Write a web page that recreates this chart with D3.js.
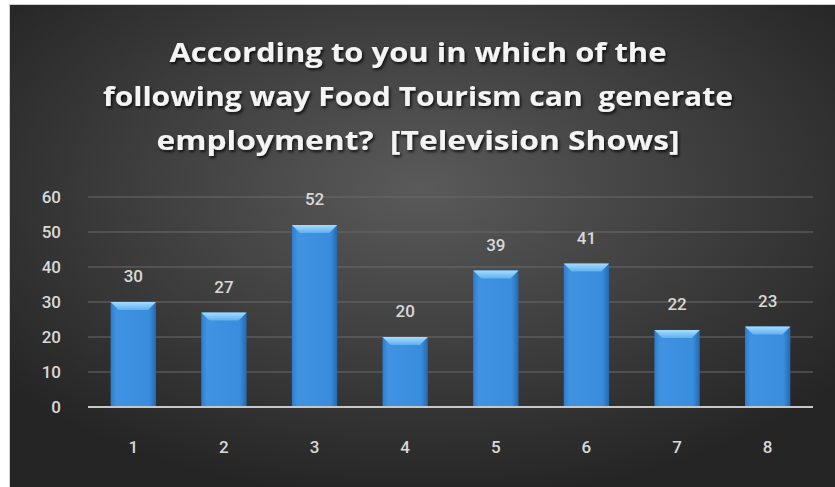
<!DOCTYPE html>
<html>
<head>
<meta charset="utf-8">
<script src="https://cdn.jsdelivr.net/npm/d3@7"></script>
<style>
  html, body { margin: 0; padding: 0; background: #fff; }
  svg { display: block; }
</style>
</head>
<body>
<div id="chart"></div>
<script>
const categories = ["1", "2", "3", "4", "5", "6", "7", "8"];
const values = [30, 27, 52, 20, 39, 41, 22, 23];
const yTicks = [0, 10, 20, 30, 40, 50, 60];
const titleLines = [
  "According to you in which of the",
  "following way Food Tourism can  generate",
  "employment?  [Television Shows]"
];
// measured widths of the title lines in the reference
const titleWidths = [497, 630, 523];

const W = 835, H = 487;
const margin = { top: 197, right: 22, bottom: 80, left: 88 };
const font = "'Roboto', 'Liberation Sans', sans-serif";

const svg = d3.select("#chart").append("svg")
  .attr("width", W).attr("height", H);

const defs = svg.append("defs");

// background radial gradient
const bg = defs.append("radialGradient").attr("id", "bg")
  .attr("cx", "50%").attr("cy", "38%").attr("r", "65%");
bg.append("stop").attr("offset", "0%").attr("stop-color", "#5a5a5a");
bg.append("stop").attr("offset", "100%").attr("stop-color", "#252525");

// bar gradient
const bar = defs.append("linearGradient").attr("id", "bar")
  .attr("x1", "0%").attr("x2", "100%");
bar.append("stop").attr("offset", "0%").attr("stop-color", "#2f7cc9");
bar.append("stop").attr("offset", "12%").attr("stop-color", "#3f93e2");
bar.append("stop").attr("offset", "85%").attr("stop-color", "#3a8ddc");
bar.append("stop").attr("offset", "100%").attr("stop-color", "#2569ae");

const bevel = defs.append("linearGradient").attr("id", "bevel")
  .attr("x1", "0%").attr("x2", "0%").attr("y1", "0%").attr("y2", "100%");
bevel.append("stop").attr("offset", "0%").attr("stop-color", "#a6dcff");
bevel.append("stop").attr("offset", "100%").attr("stop-color", "#5fb0f0");

const shadow = defs.append("filter").attr("id", "shadow")
  .attr("x", "-10%").attr("y", "-20%").attr("width", "120%").attr("height", "150%");
shadow.append("feDropShadow").attr("dx", 1.5).attr("dy", 2).attr("stdDeviation", 1.5)
  .attr("flood-color", "#000").attr("flood-opacity", 0.8);

svg.append("rect").attr("x", 9).attr("y", 4).attr("width", W - 9).attr("height", H - 4)
  .attr("fill", "#cfcfcf");
svg.append("rect").attr("x", 10).attr("y", 5).attr("width", W - 10).attr("height", H - 5)
  .attr("fill", "url(#bg)");

// title
svg.append("g").selectAll("text")
  .data(titleLines)
  .join("text")
  .attr("x", 418)
  .attr("y", (d, i) => 62 + i * 44)
  .attr("text-anchor", "middle")
  .attr("textLength", (d, i) => titleWidths[i])
  .attr("lengthAdjust", "spacingAndGlyphs")
  .attr("fill", "#f4f4f4")
  .attr("filter", "url(#shadow)")
  .style("white-space", "pre")
  .style("font-family", "'Open Sans', 'Roboto', sans-serif")
  .style("font-weight", "bold")
  .style("font-size", "27px")
  .text(d => d);

const x = d3.scaleBand()
  .domain(categories)
  .range([margin.left, W - margin.right])
  .paddingInner(0.5)
  .paddingOuter(0.25);

const y = d3.scaleLinear()
  .domain([0, 60])
  .range([H - margin.bottom, margin.top]);

// gridlines
svg.append("g").selectAll("line")
  .data(yTicks.filter(d => d > 0))
  .join("line")
  .attr("x1", margin.left).attr("x2", W - margin.right)
  .attr("y1", d => y(d)).attr("y2", d => y(d))
  .attr("stroke", "#6a6a6a").attr("stroke-width", 1);

// y axis labels
const yAxis = svg.append("g")
  .attr("transform", `translate(${margin.left - 27},0)`)
  .call(d3.axisLeft(y).tickValues(yTicks).tickSize(0).tickPadding(0));
yAxis.select(".domain").remove();
yAxis.selectAll("text")
  .attr("fill", "#d9d9d9")
  .style("font-family", font)
  .style("font-weight", 500)
  .style("font-size", "17px");

// bars
const bars = svg.append("g").selectAll("g")
  .data(values)
  .join("g")
  .attr("transform", (d, i) => `translate(${x(categories[i])},0)`);

bars.append("rect")
  .attr("x", 0)
  .attr("y", d => y(d))
  .attr("width", x.bandwidth())
  .attr("height", d => y(0) - y(d))
  .attr("fill", "url(#bar)");

bars.append("path")
  .attr("d", d => {
    const t = y(d), w = x.bandwidth();
    return `M0,${t} L${w},${t} L${w - 8},${t + 8} L8,${t + 8} Z`;
  })
  .attr("fill", "url(#bevel)");

bars.append("text")
  .attr("x", x.bandwidth() / 2)
  .attr("y", d => y(d) - 20)
  .attr("text-anchor", "middle")
  .attr("fill", "#d9d9d9")
  .style("font-family", font)
  .style("font-weight", 500)
  .style("font-size", "17px")
  .text(d => d);

// baseline
svg.append("line")
  .attr("x1", margin.left).attr("x2", W - margin.right)
  .attr("y1", y(0)).attr("y2", y(0))
  .attr("stroke", "#c8c8c8").attr("stroke-width", 2);

// x axis labels
const xAxis = svg.append("g")
  .attr("transform", `translate(0,${y(0) + 34})`)
  .call(d3.axisBottom(x).tickSize(0).tickPadding(0));
xAxis.select(".domain").remove();
xAxis.selectAll("text")
  .attr("fill", "#d9d9d9")
  .style("font-family", font)
  .style("font-weight", 500)
  .style("font-size", "17px");
</script>
</body>
</html>
